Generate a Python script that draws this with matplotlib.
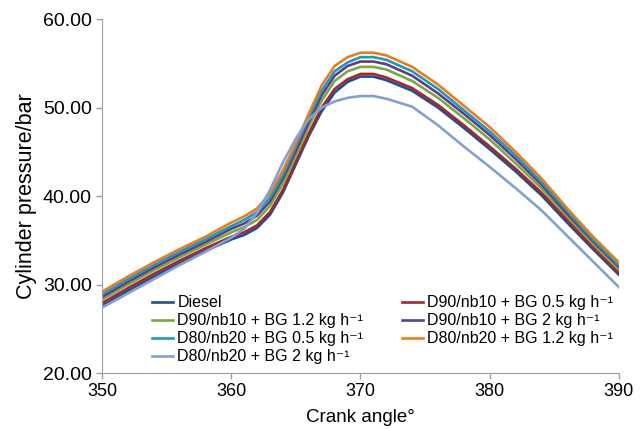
import numpy as np
import matplotlib
matplotlib.use("Agg")
import matplotlib.pyplot as plt

plt.rcParams['font.family'] = ['Liberation Sans', 'DejaVu Sans']

# crank angle (deg) and cylinder pressure (bar)
angle = [350, 352, 354, 356, 358, 360, 361, 362, 363, 364, 365, 366, 367, 368,
         369, 370, 371, 372, 374, 376, 378, 380, 382, 384, 386, 388, 390]

diesel = [27.6, 29.3, 30.9, 32.4, 33.8, 35.1, 35.6, 36.4, 37.9, 40.4, 43.6, 46.8, 49.6, 51.7,
          52.9, 53.5, 53.5, 53.1, 51.9, 50.0, 47.7, 45.3, 42.8, 40.1, 37.0, 34.0, 31.1]
d90_05 = [27.9, 29.6, 31.2, 32.7, 34.1, 35.4, 35.9, 36.7, 38.2, 40.7, 43.9, 47.1, 50.0, 52.1,
          53.2, 53.8, 53.8, 53.4, 52.2, 50.3, 48.0, 45.6, 43.1, 40.4, 37.3, 34.2, 31.3]
d90_12 = [28.3, 30.0, 31.6, 33.1, 34.5, 35.9, 36.5, 37.3, 38.9, 41.4, 44.6, 47.9, 50.8, 53.0,
          54.1, 54.6, 54.6, 54.3, 53.0, 51.1, 48.8, 46.4, 43.7, 40.9, 37.7, 34.6, 31.7]
d90_2 = [28.6, 30.3, 31.9, 33.4, 34.8, 36.3, 36.9, 37.8, 39.4, 42.0, 45.1, 48.4, 51.4, 53.6,
         54.7, 55.2, 55.2, 54.9, 53.6, 51.6, 49.3, 46.9, 44.2, 41.3, 38.0, 34.9, 32.0]
d80_05 = [28.9, 30.6, 32.2, 33.7, 35.1, 36.6, 37.3, 38.2, 39.8, 42.4, 45.6, 48.9, 51.9, 54.1,
          55.1, 55.7, 55.7, 55.4, 54.1, 52.1, 49.7, 47.3, 44.6, 41.6, 38.3, 35.1, 32.2]
d80_12 = [29.2, 30.9, 32.5, 34.0, 35.4, 37.0, 37.7, 38.6, 40.3, 42.9, 46.0, 49.3, 52.5, 54.7,
          55.7, 56.2, 56.2, 55.9, 54.6, 52.6, 50.2, 47.8, 45.0, 42.0, 38.6, 35.4, 32.5]
d80_2 = [27.4, 29.0, 30.6, 32.2, 33.7, 35.3, 36.3, 38.1, 40.7, 43.8, 46.5, 48.7, 50.0, 50.7,
         51.1, 51.3, 51.3, 51.0, 50.1, 48.0, 45.6, 43.3, 40.9, 38.4, 35.5, 32.6, 29.7]

unit = ' kg h\u207b\u00b9'
series = [
    ('Diesel', diesel, '#1f4f8f'),
    ('D90/nb10 + BG 0.5' + unit, d90_05, '#a4282c'),
    ('D90/nb10 + BG 1.2' + unit, d90_12, '#78a843'),
    ('D90/nb10 + BG 2' + unit, d90_2, '#5b3f8e'),
    ('D80/nb20 + BG 0.5' + unit, d80_05, '#2596b4'),
    ('D80/nb20 + BG 1.2' + unit, d80_12, '#e57d22'),
    ('D80/nb20 + BG 2' + unit, d80_2, '#84a0d0'),
]

fig = plt.figure(figsize=(6.42, 4.29), dpi=100)
ax = fig.add_axes([0.159, 0.1305, 0.805, 0.825])

lines = {}
for name, vals, col in series:
    lines[name], = ax.plot(angle, vals, color=col, lw=1.9, label=name)

ax.set_xlim(350, 390)
ax.set_ylim(20, 60)
ax.set_xticks(np.arange(350, 391, 10))
ax.set_yticks(np.arange(20, 61, 10))
ax.yaxis.set_major_formatter(matplotlib.ticker.FormatStrFormatter('%.2f'))
ax.tick_params(color='#a0a0a0', length=4, width=1)
ax.tick_params(axis='x', labelsize=13)
ax.tick_params(axis='y', labelsize=14)
for s in ['top', 'right']:
    ax.spines[s].set_visible(False)
for s in ['left', 'bottom']:
    ax.spines[s].set_color('#a0a0a0')

ax.set_xlabel('Crank angle°', fontsize=13.5, labelpad=6)
ax.set_ylabel('Cylinder pressure/bar', fontsize=15.5, labelpad=4)

# column-first fill: left column 4 entries, right column 3
order = [0, 2, 4, 6, 1, 3, 5]
handles = [lines[series[i][0]] for i in order]
labels = [series[i][0] for i in order]
ax.legend(handles, labels, ncol=2, loc='lower left', bbox_to_anchor=(0.081, 0.002),
          frameon=False, fontsize=11.5, borderpad=0, handlelength=1.35,
          handletextpad=0.25, labelspacing=0.19, columnspacing=2.4)

fig.savefig('out.png', dpi=100)
